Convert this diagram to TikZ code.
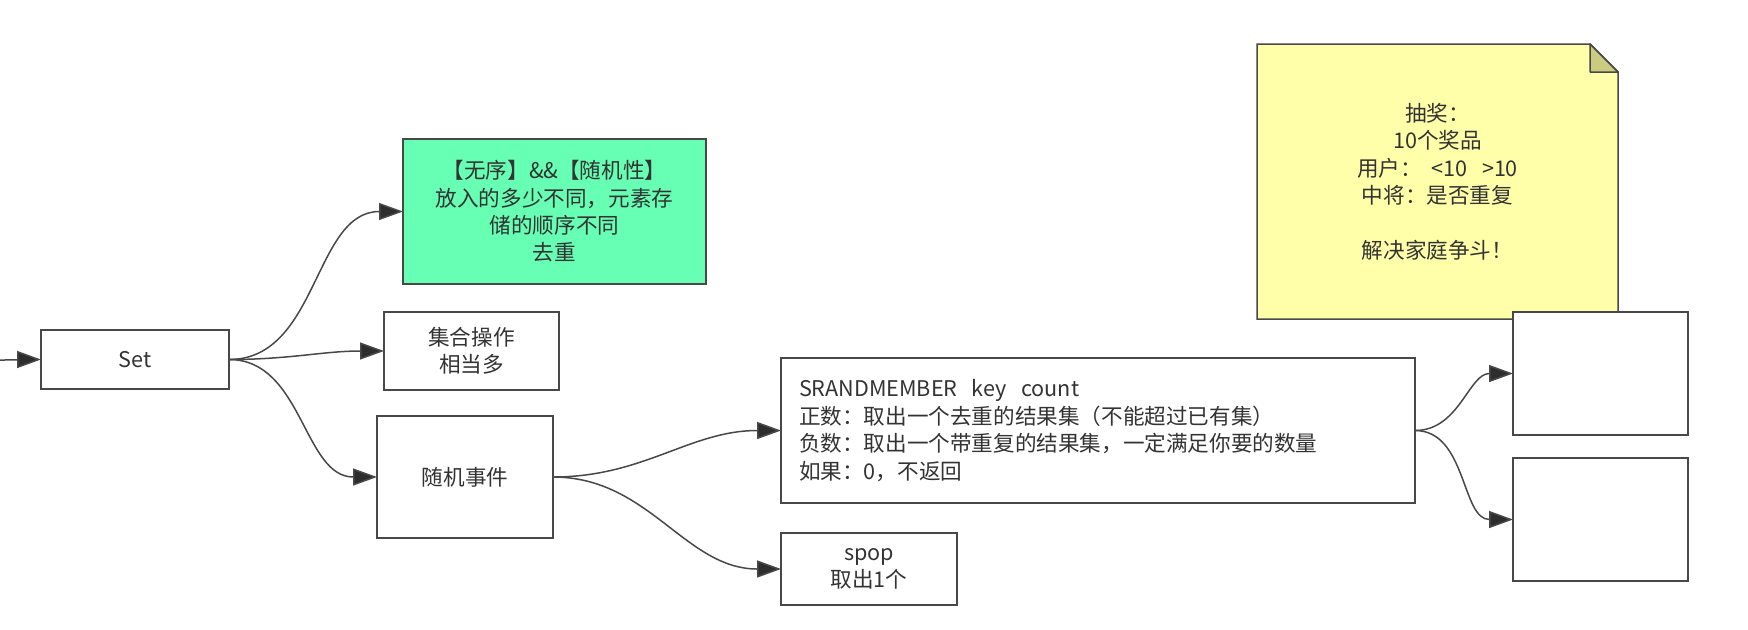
\documentclass[tikz,border=0pt]{standalone}
\usepackage{fontspec}
\setmainfont{Noto Sans CJK SC}
\usetikzlibrary{arrows.meta,positioning}
\definecolor{edgegray}{RGB}{72,72,72}
\definecolor{tipgray}{RGB}{45,45,45}
\definecolor{textgray}{RGB}{51,51,51}
\definecolor{mintgreen}{RGB}{102,255,179}
\definecolor{noteyellow}{RGB}{255,255,170}
\definecolor{foldyellow}{RGB}{204,204,128}
\tikzset{
    block/.style={rectangle,draw=edgegray,line width=0.75pt,fill=white,inner sep=0pt,outer sep=0pt,
        align=center,text=textgray,font=\fontsize{10.8pt}{13.7pt}\selectfont},
    memo/.style={inner sep=0pt,outer sep=0pt,align=center,text=textgray,font=\fontsize{10.8pt}{13.7pt}\selectfont},
    link/.style={-{Triangle[length=12pt,width=8.5pt,fill=tipgray]},line width=0.75pt,draw=edgegray,out=0,in=180}
}

\begin{document}
\begin{tikzpicture}[x=0.5pt,y=-0.5pt]

                \useasboundingbox (0,0) rectangle (1748,629);

                % note behind the right boxes
                \node[memo,minimum width=180.5pt,minimum height=137.5pt] (lottery) at (1437.5,181.5) {};
                \filldraw[draw=edgegray,line width=0.75pt,fill=noteyellow]
                    (lottery.north west) -- ([xshift=-14pt]lottery.north east) -- ([yshift=-14pt]lottery.north east)
                    -- (lottery.south east) -- (lottery.south west) -- cycle;
                \filldraw[draw=edgegray,line width=0.75pt,fill=foldyellow,line join=round]
                    ([xshift=-14pt]lottery.north east) -- ([xshift=-14pt,yshift=-14pt]lottery.north east)
                    -- ([yshift=-14pt]lottery.north east) -- cycle;
                \node[memo] (lotterytext) at (lottery) {抽奖：\\10个奖品\\用户：\ \ <10\ \ \ >10\\中将：是否重复\\[13.7pt]解决家庭争斗！};

                \coordinate (entry) at (0,360);
                \node[block,minimum width=94pt,minimum height=29.5pt] (set) at (135,359.5) {Set};

                \node[block,fill=mintgreen,minimum width=151.5pt,minimum height=72.5pt] (unordered) at (554.5,211.5)
                    {【无序】\&\&【随机性】\\放入的多少不同，元素存\\储的顺序不同\\去重};
                \node[block,minimum width=87.5pt,minimum height=39pt] (setops) at (471.5,351) {集合操作\\相当多};
                \node[block,minimum width=88pt,minimum height=61pt] (random) at (465,477) {随机事件};

                \node[block,minimum width=317pt,minimum height=72.5pt,text width=299pt,align=left] (srand) at (1098,430.5)
                    {SRANDMEMBER\ \ key\ \ count\\正数：取出一个去重的结果集（不能超过已有集）\\负数：取出一个带重复的结果集，一定满足你要的数量\\如果：0，不返回};
                \node[block,minimum width=88pt,minimum height=36pt] (spop) at (869,569) {spop\\取出1个};

                \node[block,minimum width=87.5pt,minimum height=61.5pt] (positive) at (1600.5,373.5) {};
                \node[block,minimum width=87.5pt,minimum height=61.5pt] (negative) at (1600.5,519.5) {};

                \path (entry) edge[link] (set.west)
                      (set.east) edge[link] (unordered.west)
                      (set.east) edge[link] (setops.west)
                      (set.east) edge[link] (random.west)
                      (random.east) edge[link] (srand.west)
                      (random.east) edge[link] (spop.west)
                      (srand.east) edge[link] (positive.west)
                      (srand.east) edge[link] (negative.west);

            \end{tikzpicture}
\end{document}
